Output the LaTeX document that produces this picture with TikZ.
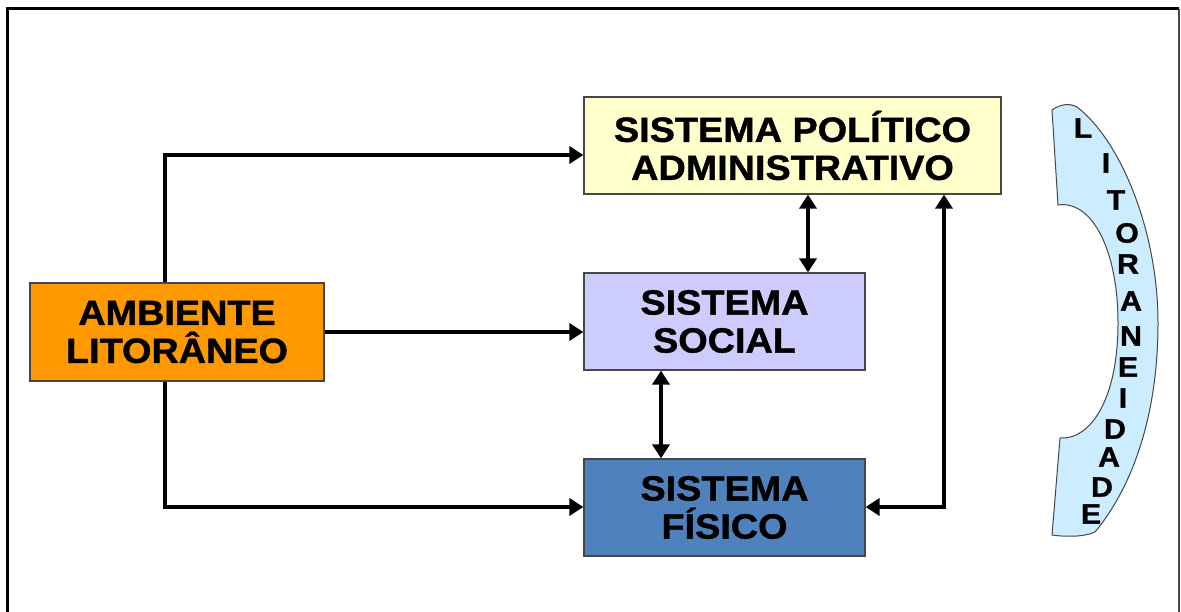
\documentclass[tikz,border=0pt]{standalone}
\usepackage{fontspec}
\setmainfont{Liberation Sans}
\newfontfamily\boxfont{Liberation Sans Bold}[FakeStretch=1.08, FakeBold=1.2]
\usetikzlibrary{arrows.meta}
\definecolor{cOrange}{RGB}{255,153,0}
\definecolor{cYellow}{RGB}{255,255,204}
\definecolor{cLav}{RGB}{204,204,255}
\definecolor{cBlue}{RGB}{79,129,189}
\definecolor{cSky}{RGB}{204,236,255}
\definecolor{cEdge}{RGB}{70,70,70}
\tikzset{
  sysbox/.style={draw=cEdge, line width=1.2pt, rectangle, align=center, inner sep=0pt,
    font=\fontsize{35}{38}\boxfont},
  arr/.style={line width=4pt, line join=miter, -{Triangle[length=14pt,width=17pt]}},
  darr/.style={line width=4pt, line join=miter, {Triangle[length=14pt,width=17pt]}-{Triangle[length=14pt,width=17pt]}},
  letter/.style={font=\fontsize{28}{28}\boxfont, inner sep=0pt}
}
\begin{document}
\begin{tikzpicture}[x=1pt,y=-1pt]
\useasboundingbox (0,0) rectangle (1181,612);
\fill[white] (0,0) rectangle (1181,612);
% frame
\draw[line width=3pt] (7,640) -- (7,9) -- (1179,9);
\draw[line width=1.5pt, cEdge] (1179,9) -- (1179,640);
% boxes
\node[sysbox, fill=cOrange, minimum width=294pt, minimum height=98pt] (amb) at (177,332) {AMBIENTE\\LITORÂNEO};
\node[sysbox, fill=cYellow, minimum width=417pt, minimum height=97pt] (pol) at (792.5,145.5) {SISTEMA POLÍTICO\\ADMINISTRATIVO};
\node[sysbox, fill=cLav, minimum width=281pt, minimum height=97pt] (soc) at (724.5,321.5) {SISTEMA\\SOCIAL};
\node[sysbox, fill=cBlue, minimum width=281pt, minimum height=97pt] (fis) at (724.5,507.5) {SISTEMA\\FÍSICO};
% junctions
\coordinate (jt) at (165,155);
\coordinate (jb) at (165,507);
\coordinate (c1) at (808,0);
\coordinate (c2) at (661,0);
\coordinate (jr) at (944,507);
% connectors
\draw[arr] (jt |- amb.north) -- (jt) -- (pol.west |- jt);
\draw[arr] (amb.east) -- (soc.west |- amb.east);
\draw[arr] (jb |- amb.south) -- (jb) -- (fis.west |- jb);
\draw[darr] (pol.south -| c1) -- (soc.north -| c1);
\draw[darr] (soc.south -| c2) -- (fis.north -| c2);
\draw[darr] (fis.east |- jr) -- (jr) -- (pol.south -| jr);
% litoraneidade arc
\draw[cEdge, line width=1pt, fill=cSky]
  (1052,110) .. controls (1060,104) and (1070,103) .. (1077,107)
  .. controls (1120,140) and (1158,230) .. (1158,323)
  .. controls (1158,420) and (1130,490) .. (1095,532)
  .. controls (1085,537) and (1065,537) .. (1052,535)
  -- (1060,438)
  .. controls (1090,440) and (1118,400) .. (1118,323)
  .. controls (1118,250) and (1092,200) .. (1058,205)
  -- cycle;
\node[letter] (l1) at (1083,128) {L};
\node[letter] (l2) at (1106,163) {I};
\node[letter] (l3) at (1116,200) {T};
\node[letter] (l4) at (1127,233) {O};
\node[letter] (l5) at (1128,264) {R};
\node[letter] (l6) at (1131,301) {A};
\node[letter] (l7) at (1131,336) {N};
\node[letter] (l8) at (1128,367) {E};
\node[letter] (l9) at (1123,398) {I};
\node[letter] (l10) at (1115,429) {D};
\node[letter] (l11) at (1109,457) {A};
\node[letter] (l12) at (1102,487) {D};
\node[letter] (l13) at (1091,514) {E};
\end{tikzpicture}
\end{document}
